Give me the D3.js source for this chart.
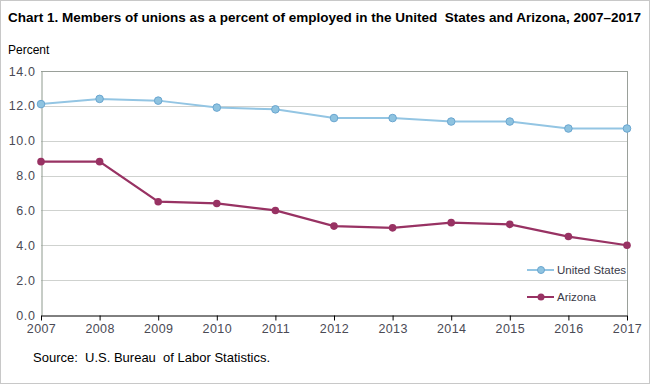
<!DOCTYPE html>
<html><head><meta charset="utf-8">
<script src="https://cdn.jsdelivr.net/npm/d3@7"></script>
<style>body{margin:0;background:#fff}svg{display:block}text{white-space:pre}</style>
</head><body><svg id="c" width="650" height="384"></svg>
<script>
const years = [2007,2008,2009,2010,2011,2012,2013,2014,2015,2016,2017];
const unitedStates = [12.1,12.4,12.3,11.9,11.8,11.3,11.3,11.1,11.1,10.7,10.7];
const arizona = [8.8,8.8,6.5,6.4,6.0,5.1,5.0,5.3,5.2,4.5,4.0];
const yTicks = [0,2,4,6,8,10,12,14];
const seriesNames = ["United States","Arizona"];

const svg = d3.select("#c");
const W=650,H=384;
const L=41,R=627,T=71,B=315;
const x = d3.scaleLinear().domain([2007,2017]).range([L,R]);
const y = d3.scaleLinear().domain([0,14]).range([B,T]);

svg.append("rect").attr("x",0.5).attr("y",0.5).attr("width",W-1).attr("height",H-1)
  .attr("fill","#fff").attr("stroke","#c8c8c8");

svg.append("text").attr("x",8).attr("y",22)
  .attr("font-family","'Liberation Sans',Arial,sans-serif").attr("font-weight","bold")
  .attr("font-size",13.6).attr("fill","#000")
  .attr("textLength",633).attr("lengthAdjust","spacingAndGlyphs")
  .text("Chart 1. Members of unions as a percent of employed in the United  States and Arizona, 2007\u20132017");

svg.append("text").attr("x",8).attr("y",54)
  .attr("font-family","'Liberation Sans',Arial,sans-serif").attr("font-size",12).attr("fill","#000").text("Percent");

// gridlines
svg.append("g").selectAll("line").data(yTicks.filter(d=>d>0&&d<14)).join("line")
  .attr("x1",L).attr("x2",R).attr("y1",d=>Math.round(y(d))+0.5).attr("y2",d=>Math.round(y(d))+0.5)
  .attr("stroke","#cfd2cf");
// top and right frame
svg.append("line").attr("x1",L).attr("x2",R+0.5).attr("y1",Math.round(y(14))+0.5).attr("y2",Math.round(y(14))+0.5).attr("stroke","#9aa09a");
svg.append("line").attr("x1",R+0.5).attr("x2",R+0.5).attr("y1",Math.round(y(14))).attr("y2",B).attr("stroke","#9aa09a");

// y axis
const yAxis = d3.axisLeft(y).tickValues(yTicks).tickFormat(d3.format(".1f")).tickSize(0).tickPadding(6);
const gy = svg.append("g").attr("transform",`translate(${L+0.5},0)`).call(yAxis);
gy.select(".domain").attr("stroke","#8e9a8e");
gy.selectAll("text").attr("font-family","'Liberation Sans',Arial,sans-serif").attr("font-size",12.5).attr("fill","#4a4a55").attr("letter-spacing","0.6");

// x axis
const xAxis = d3.axisBottom(x).tickValues(years).tickFormat(d3.format("d")).tickSize(5).tickSizeOuter(0).tickPadding(4);
const gx = svg.append("g").attr("transform",`translate(0,${B+0.5})`).call(xAxis);
gx.select(".domain").attr("stroke","#000");
gx.selectAll(".tick line").attr("stroke","#000");
gx.selectAll("text").attr("font-family","'Liberation Sans',Arial,sans-serif").attr("font-size",12.5).attr("fill","#4a4a55").attr("letter-spacing","0.4");

const line = d3.line().x((d,i)=>x(years[i])).y(d=>y(d));
const usColor="#93c5e3", usFill="#8ec3e0", usStroke="#6aa6d0";
const azColor="#983263";

svg.append("path").datum(unitedStates).attr("d",line).attr("fill","none").attr("stroke",usColor).attr("stroke-width",2);
svg.append("g").selectAll("circle").data(unitedStates).join("circle")
  .attr("cx",(d,i)=>x(years[i])).attr("cy",d=>y(d)).attr("r",3.8)
  .attr("fill",usFill).attr("stroke",usStroke).attr("stroke-width",1);

svg.append("path").datum(arizona).attr("d",line).attr("fill","none").attr("stroke",azColor).attr("stroke-width",2.2);
svg.append("g").selectAll("circle").data(arizona).join("circle")
  .attr("cx",(d,i)=>x(years[i])).attr("cy",d=>y(d)).attr("r",3.8)
  .attr("fill",azColor);

// legend
const leg = [{n:seriesNames[0],c:usColor,f:usFill,s:usStroke,y:270},{n:seriesNames[1],c:azColor,f:azColor,s:"none",y:297}];
const lg = svg.append("g").selectAll("g").data(leg).join("g");
lg.append("line").attr("x1",527).attr("x2",554).attr("y1",d=>d.y).attr("y2",d=>d.y).attr("stroke",d=>d.c).attr("stroke-width",2);
lg.append("circle").attr("cx",541).attr("cy",d=>d.y).attr("r",3.5).attr("fill",d=>d.f).attr("stroke",d=>d.s);
lg.append("text").attr("x",557).attr("y",d=>d.y+4).text(d=>d.n)
  .attr("font-family","'Liberation Sans',Arial,sans-serif").attr("font-size",11.5).attr("fill","#3a3a48");

svg.append("text").attr("x",33).attr("y",362)
  .attr("font-family","'Liberation Sans',Arial,sans-serif").attr("font-size",13).attr("fill","#000")
  .text("Source:  U.S. Bureau  of Labor Statistics.");
</script></body></html>
